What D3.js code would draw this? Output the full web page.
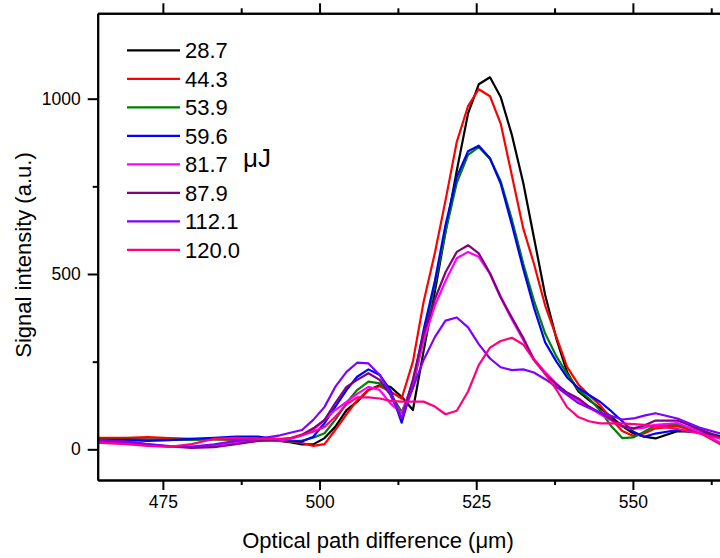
<!DOCTYPE html>
<meta charset="utf-8">
<style>
body { margin: 0; background: #fff; }
svg { font-family: "Liberation Sans", Arial, sans-serif; }
.axis path, .axis line { stroke: #000; stroke-width: 2; }
.series { fill: none; stroke-width: 2.2; stroke-linejoin: round; }
</style>
<div id="chart"></div>
<script src="https://d3js.org/d3.v7.min.js"></script>
<script>

// optical path difference (um), sample positions
var opd = [464.5, 469.1, 472.6, 476.1, 479.6, 483.2, 486.7, 490.2, 493.7,
  495.5, 497.2, 499.0, 500.8, 502.5, 504.3, 506.0, 507.8, 509.6, 511.3,
  513.1, 514.9, 516.6, 518.4, 520.1, 521.9, 523.7, 525.4, 527.2, 528.9,
  530.7, 532.5, 534.2, 536.0, 537.8, 539.5, 541.3, 543.0, 544.8, 546.6,
  548.3, 550.1, 551.8, 553.6, 557.1, 560.6, 564.2];

var energies = ["28.7", "44.3", "53.9", "59.6", "81.7", "87.9", "112.1", "120.0"];
var colors = ["#000000", "#ff0000", "#008000", "#0000ff", "#ff00ff", "#800080", "#8000ff", "#ff0080"];

var s287 = [30, 29, 28, 28, 29, 30, 31, 28, 24,
  20, 14, 14, 32, 64, 112, 136, 169, 183, 178,
  150, 112, 280, 450, 620, 795, 958, 1041, 1061, 1005,
  896, 760, 605, 440, 315, 220, 165, 140, 117, 92,
  66, 45, 36, 31, 52, 50, 35];
var s443 = [33, 33, 35, 32, 30, 28, 27, 26, 24,
  22, 18, 10, 15, 55, 100, 140, 170, 180, 165,
  145, 250, 420, 560, 710, 877, 979, 1027, 1007, 929,
  780, 630, 530, 410, 320, 235, 185, 155, 125, 85,
  52, 38, 45, 60, 66, 48, 12];
var s539 = [27, 27, 27, 27, 27, 28, 28, 28, 26,
  22, 25, 33, 46, 84, 132, 169, 193, 188, 160,
  107, 175, 320, 470, 620, 760, 840, 862, 828, 765,
  655, 530, 425, 330, 265, 215, 170, 145, 110, 65,
  32, 34, 50, 68, 70, 55, 36];
var s596 = [26, 26, 24, 26, 30, 33, 36, 36, 28,
  24, 22, 36, 75, 121, 169, 207, 228, 212, 169,
  76, 188, 340, 480, 640, 777, 850, 866, 830, 758,
  640, 515, 405, 305, 250, 205, 175, 155, 135, 108,
  80, 50, 36, 45, 55, 48, 36];
var s817 = [20, 18, 12, 8, 7, 10, 20, 24, 26,
  30, 40, 55, 84, 112, 135, 158, 178, 169, 131,
  103, 190, 310, 410, 480, 545, 563, 549, 500, 432,
  370, 312, 258, 220, 187, 160, 140, 120, 100, 82,
  65, 58, 62, 70, 75, 50, 17];
var s879 = [26, 22, 14, 8, 4, 6, 15, 24, 28,
  33, 42, 60, 84, 132, 178, 198, 217, 198, 155,
  88, 200, 330, 428, 505, 563, 582, 559, 502, 435,
  375, 318, 255, 215, 185, 162, 145, 122, 104, 85,
  66, 60, 68, 82, 82, 58, 31];
var s1121 = [26, 22, 15, 9, 8, 14, 24, 30, 40,
  48, 55, 84, 121, 178, 221, 247, 245, 212, 160,
  88, 175, 255, 320, 367, 376, 348, 300, 259, 234,
  226, 228, 219, 200, 178, 155, 132, 118, 105, 95,
  85, 88, 96, 103, 88, 62, 44];
var s1200 = [19, 15, 10, 7, 15, 30, 33, 30, 30,
  32, 40, 50, 64, 93, 128, 148, 148, 145, 138,
  136, 136, 136, 122, 100, 110, 165, 240, 290, 309,
  318, 299, 255, 215, 170, 120, 92, 80, 74, 74,
  74, 72, 70, 66, 58, 45, 30];

var seriesValues = [s287, s443, s539, s596, s817, s879, s1121, s1200];

var xMajor = [475, 500, 525, 550];
var xMinor = [487.5, 512.5, 537.5, 562.5];
var yMajor = [0, 500, 1000];
var yMinor = [250, 750];

var width = 720, height = 558;
var plotLeft = 97.7, plotTop = 13.3, plotBottom = 480, plotRight = 736.3;

var svg = d3.select("#chart").append("svg")
    .attr("width", width)
    .attr("height", height);

var x = d3.scaleLinear().domain([464.6, 566.5]).range([plotLeft, plotRight]);
var y = d3.scaleLinear().domain([-87.5, 1243.5]).range([plotBottom, plotTop]);

svg.append("clipPath").attr("id", "plot-clip")
  .append("rect")
    .attr("x", plotLeft).attr("y", plotTop)
    .attr("width", plotRight - plotLeft).attr("height", plotBottom - plotTop);

var line = d3.line()
    .x(function(d) { return x(d[0]); })
    .y(function(d) { return y(d[1]); });

var plot = svg.append("g").attr("clip-path", "url(#plot-clip)");
seriesValues.forEach(function(vals, i) {
  var pts = opd.map(function(o, j) { return [o, vals[j]]; });
  plot.append("path")
      .datum(pts)
      .attr("class", "series")
      .attr("stroke", colors[i])
      .attr("d", line);
});

function styleAxis(g) {
  g.attr("font-family", null).attr("font-size", null);
  g.selectAll("text")
      .style("font-family", "'Liberation Sans', Arial, sans-serif")
      .style("font-size", "17.5px")
      .attr("fill", "#000");
}

// axes: bottom with labels, top ticks only, left with labels
svg.append("g").attr("class", "axis")
    .attr("transform", "translate(0," + plotBottom + ")")
    .call(d3.axisBottom(x).tickValues(xMajor).tickSize(10).tickSizeOuter(0).tickPadding(6))
    .call(styleAxis);
svg.append("g").attr("class", "axis")
    .attr("transform", "translate(0," + plotBottom + ")")
    .call(d3.axisBottom(x).tickValues(xMinor).tickSize(5).tickSizeOuter(0).tickFormat(""));
svg.append("g").attr("class", "axis")
    .attr("transform", "translate(0," + plotTop + ")")
    .call(d3.axisTop(x).tickValues(xMajor).tickSize(10).tickSizeOuter(0).tickFormat(""));
svg.append("g").attr("class", "axis")
    .attr("transform", "translate(0," + plotTop + ")")
    .call(d3.axisTop(x).tickValues(xMinor).tickSize(5).tickSizeOuter(0).tickFormat(""));
svg.append("g").attr("class", "axis")
    .attr("transform", "translate(" + plotLeft + ",0)")
    .call(d3.axisLeft(y).tickValues(yMajor).tickSize(10).tickSizeOuter(0).tickPadding(7).tickFormat(d3.format("d")))
    .call(styleAxis);
svg.append("g").attr("class", "axis")
    .attr("transform", "translate(" + plotLeft + ",0)")
    .call(d3.axisLeft(y).tickValues(yMinor).tickSize(5).tickSizeOuter(0).tickFormat(""));

// axis titles
svg.append("text")
    .attr("x", 378).attr("y", 548)
    .attr("text-anchor", "middle")
    .style("font-size", "22px")
    .text("Optical path difference (μm)");
svg.append("text")
    .attr("transform", "translate(31,255) rotate(-90)")
    .attr("text-anchor", "middle")
    .style("font-size", "22px")
    .text("Signal intensity (a.u.)");

// legend
var legend = svg.append("g");
energies.forEach(function(e, i) {
  var by = 58.3 + i * 28.5;
  legend.append("line")
      .attr("x1", 127).attr("x2", 180)
      .attr("y1", by - 8).attr("y2", by - 8)
      .attr("stroke", colors[i]).attr("stroke-width", 2.2);
  legend.append("text")
      .attr("x", 185).attr("y", by)
      .style("font-size", "22px")
      .text(e);
});
legend.append("text")
    .attr("x", 243).attr("y", 167)
    .style("font-size", "26px")
    .text("μJ");
</script>
